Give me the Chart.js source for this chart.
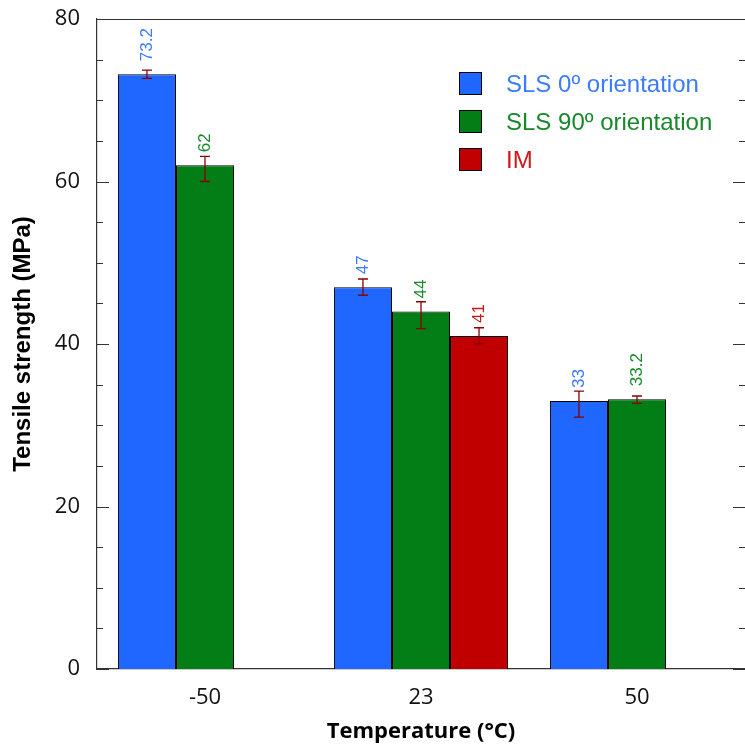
<!DOCTYPE html>
<html lang="en">
<head>
  <meta charset="UTF-8" />
  <title>Tensile strength</title>
  <script src="https://cdn.jsdelivr.net/npm/chart.js"></script>
  <style>
    body { margin: 0; background: #fff; }
    #chart { display: block; }
  </style>
</head>
<body>
  <canvas id="chart" width="745" height="745"></canvas>

<script>
  // temperatures (°C)
  const temperatures = ['-50', '23', '50'];

  // mean tensile strength (MPa)
  const sls0 = [73.2, 47, 33];
  const sls90 = [62, 44, 33.2];
  const im = [null, 41, null];

  // error bars, above / below the mean
  const sls0ErrUp = [0.5, 1, 1.2];
  const sls0ErrDown = [0.5, 1, 2];
  const sls90ErrUp = [1.1, 1.2, 0.4];
  const sls90ErrDown = [2, 2.1, 0.5];
  const imErrUp = [null, 1, null];
  const imErrDown = [null, 1, null];

  const yTicks = [0, 20, 40, 60, 80];

  const series = [
    { label: 'SLS 0º orientation', data: sls0, up: sls0ErrUp, down: sls0ErrDown, fill: '#1f67ff', text: '#3a7cff' },
    { label: 'SLS 90º orientation', data: sls90, up: sls90ErrUp, down: sls90ErrDown, fill: '#037d15', text: '#17892a' },
    { label: 'IM', data: im, up: imErrUp, down: imErrDown, fill: '#c00000', text: '#cc1a1a' }
  ];

  // inward tick marks on left and right, plus the top frame line
  const frame = {
    id: 'frame',
    afterDraw(chart) {
      const { ctx, chartArea: a, scales: { y } } = chart;
      ctx.save();
      ctx.strokeStyle = '#333';
      ctx.lineWidth = 1.2;
      ctx.beginPath();
      ctx.moveTo(a.left, a.top + 0.5);
      ctx.lineTo(a.right, a.top + 0.5);
      y.ticks.forEach(t => {
        const py = Math.round(y.getPixelForValue(t.value)) + 0.5;
        const len = yTicks.includes(t.value) ? 12 : 6;
        ctx.moveTo(a.left, py); ctx.lineTo(a.left + len, py);
        ctx.moveTo(a.right, py); ctx.lineTo(a.right - len, py);
      });
      ctx.stroke();
      ctx.restore();
    }
  };

  // error bars and rotated value labels
  const errorBars = {
    id: 'errorBars',
    afterDatasetsDraw(chart) {
      const { ctx, scales: { y } } = chart;
      ctx.save();
      series.forEach((s, di) => {
        const meta = chart.getDatasetMeta(di);
        meta.data.forEach((bar, i) => {
          const v = s.data[i];
          if (v == null) return;
          const top = y.getPixelForValue(v + s.up[i]);
          const bot = y.getPixelForValue(v - s.down[i]);
          ctx.strokeStyle = '#8b0000';
          ctx.lineWidth = 1.3;
          ctx.beginPath();
          ctx.moveTo(bar.x, top); ctx.lineTo(bar.x, bot);
          ctx.moveTo(bar.x - 5, top); ctx.lineTo(bar.x + 5, top);
          ctx.moveTo(bar.x - 5, bot); ctx.lineTo(bar.x + 5, bot);
          ctx.stroke();

          ctx.save();
          ctx.translate(bar.x, bar.y - 13);
          ctx.rotate(-Math.PI / 2);
          ctx.fillStyle = s.text;
          ctx.font = '17px "Liberation Sans", Arial, sans-serif';
          ctx.textAlign = 'left';
          ctx.textBaseline = 'middle';
          ctx.fillText(String(v), 0, 0);
          ctx.restore();
        });
      });
      ctx.restore();
    }
  };

  // legend inside the plot, top right
  const legendBox = {
    id: 'legendBox',
    afterDraw(chart) {
      const { ctx } = chart;
      ctx.save();
      ctx.font = '24px "Liberation Sans", Arial, sans-serif';
      ctx.textBaseline = 'middle';
      series.forEach((s, i) => {
        const y0 = 72 + i * 38;
        ctx.fillStyle = s.fill;
        ctx.fillRect(459, y0, 23, 23);
        ctx.strokeStyle = '#000';
        ctx.lineWidth = 1;
        ctx.strokeRect(459.5, y0 + 0.5, 22, 22);
        ctx.fillStyle = s.text;
        ctx.fillText(s.label, 506, y0 + 13);
      });
      ctx.restore();
    }
  };

  new Chart(document.getElementById('chart'), {
    type: 'bar',
    data: {
      labels: temperatures,
      datasets: series.map(s => ({
        label: s.label,
        data: s.data,
        backgroundColor: s.fill,
        borderColor: '#000',
        borderWidth: 1,
        categoryPercentage: 0.806,
        barPercentage: 1
      }))
    },
    options: {
      responsive: false,
      animation: false,
      layout: { padding: { top: 19, right: 0, left: 0, bottom: 0 } },
      plugins: { legend: { display: false }, tooltip: { enabled: false } },
      scales: {
        x: {
          grid: { display: false, drawTicks: false },
          border: { display: true, color: '#333', width: 1.2 },
          ticks: { color: '#111', padding: 16, font: { family: '"Open Sans"', size: 22 } },
          title: {
            display: true,
            text: 'Temperature (°C)',
            color: '#000',
            padding: { top: 0, bottom: 0 },
            font: { family: '"Open Sans"', size: 22, weight: 'bold' }
          },
          afterFit(scale) {
            scale.height = 76;
            scale.paddingLeft = 0;
            scale.paddingRight = 0;
          }
        },
        y: {
          min: 0,
          max: 80,
          grid: { display: false, drawTicks: false },
          border: { display: true, color: '#333', width: 1.2 },
          ticks: {
            stepSize: 5,
            autoSkip: false,
            color: '#111',
            padding: 17,
            font: { family: '"Open Sans"', size: 22 },
            callback: v => (yTicks.includes(v) ? v : '')
          },
          title: {
            display: true,
            text: 'Tensile strength (MPa)',
            color: '#000',
            padding: { top: 9, bottom: 0 },
            font: { family: '"Liberation Sans"', size: 24, weight: 'bold' }
          },
          afterFit(scale) {
            scale.width = 97;
            scale.paddingTop = 0;
            scale.paddingBottom = 0;
          }
        }
      }
    },
    plugins: [frame, errorBars, legendBox]
  });
</script>
</body>
</html>
